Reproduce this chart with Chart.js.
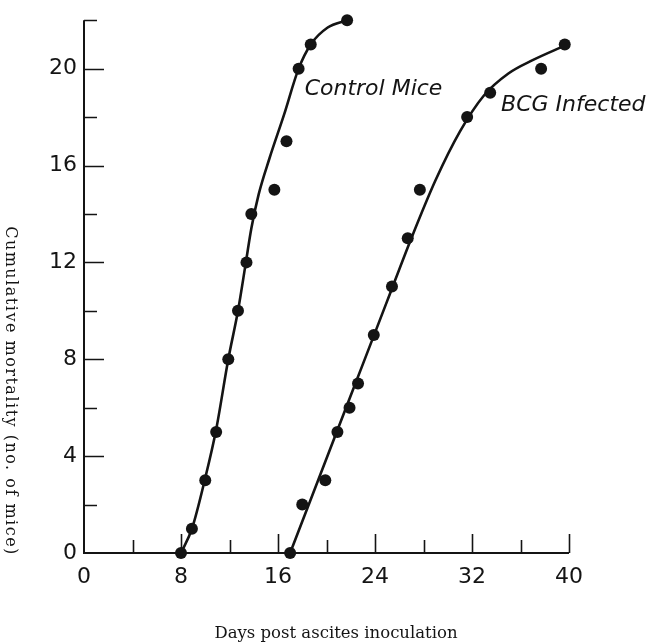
<!DOCTYPE html>
<html lang="en">
<head>
  <meta charset="UTF-8">
  <title>Cumulative mortality after ascites inoculation</title>
  <script src="https://cdn.jsdelivr.net/npm/chart.js"></script>
  <style>
    html, body { margin: 0; padding: 0; background: #fff; }
    #wrap { width: 647px; height: 644px; position: relative; }
  </style>
</head>
<body>
  <div id="wrap"><canvas id="mortalityChart"></canvas></div>

  <script>
    // observed cumulative deaths (day, no. of mice)
    const controlDays   = [8, 8.9, 10, 10.9, 11.9, 12.7, 13.4, 13.8, 15.7, 16.7, 17.7, 18.7, 21.7];
    const controlDeaths = [0, 1, 3, 5, 8, 10, 12, 14, 15, 17, 20, 21, 22];
    const bcgDays   = [17, 18, 19.9, 20.9, 21.9, 22.6, 23.9, 25.4, 26.7, 27.7, 31.6, 33.5, 37.7, 39.65];
    const bcgDeaths = [0, 2, 3, 5, 6, 7, 9, 11, 13, 15, 18, 19, 20, 21];

    // hand drawn smooth curves through each group
    const controlFitDays   = [8, 8.9, 10, 10.9, 11.9, 12.7, 13.35, 13.8, 14.4, 15.3, 16.5, 17.7, 18.7, 20.1, 21.7];
    const controlFitDeaths = [0, 1, 3.1, 5.1, 8, 10, 12, 13.4, 14.8, 16.3, 18.1, 20, 21, 21.7, 22];
    const bcgFitDays   = [17, 19, 21, 23, 25, 27, 29, 31, 33, 35, 37, 39.65];
    const bcgFitDeaths = [0, 2.6, 5.2, 7.8, 10.4, 13, 15.4, 17.4, 18.9, 19.8, 20.35, 20.95];

    // axis ticks
    const xTickLabels = [0, 8, 16, 24, 32, 40];
    const xTickMarks  = [4, 8, 12, 16, 20, 24, 28, 32, 36, 40];
    const yTickLabels = [0, 4, 8, 12, 16, 20];
    const yTickMarks  = [2, 4, 6, 8, 10, 12, 14, 16, 18, 20, 22];

    const seriesNames = ['Control Mice', 'BCG Infected'];
    const nameAnchors = [{ x: 18.2, y: 18.9 }, { x: 34.4, y: 18.25 }];

    const ink = '#141414';
    const toXY = (xs, ys) => xs.map((v, i) => ({ x: v, y: ys[i] }));

    const dots = (data) => ({
      data, showLine: false, pointRadius: 6, pointHoverRadius: 6,
      pointBackgroundColor: ink, pointBorderWidth: 0, clip: false, order: 1
    });
    const curve = (data) => ({
      data, showLine: true, pointRadius: 0, borderColor: ink, borderWidth: 2.6,
      cubicInterpolationMode: 'monotone', clip: false, order: 2
    });

    // axes with inward tick marks, titles and curve names
    const frame = {
      id: 'frame',
      beforeDatasetsDraw(chart) {
        const { ctx, chartArea: a, scales: { x, y } } = chart;
        ctx.save();
        ctx.strokeStyle = ink;
        ctx.lineWidth = 2;
        ctx.beginPath();
        ctx.moveTo(a.left, a.top);
        ctx.lineTo(a.left, a.bottom);
        ctx.lineTo(a.right, a.bottom);
        ctx.stroke();

        ctx.lineWidth = 1.6;
        ctx.beginPath();
        xTickMarks.forEach(v => {
          const px = Math.round(x.getPixelForValue(v)) + 0.5;
          const len = v % 8 === 0 ? 19 : 13;
          ctx.moveTo(px, a.bottom);
          ctx.lineTo(px, a.bottom - len);
        });
        yTickMarks.forEach(v => {
          const py = Math.round(y.getPixelForValue(v)) + 0.5;
          const len = v % 4 === 0 ? 20 : 13;
          ctx.moveTo(a.left, py);
          ctx.lineTo(a.left + len, py);
        });
        ctx.stroke();

        ctx.fillStyle = ink;
        ctx.font = '16.5px "DejaVu Serif"';
        ctx.textAlign = 'center';
        ctx.textBaseline = 'middle';
        ctx.fillText('Days post ascites inoculation', 336, 634);

        ctx.translate(10, 391);
        ctx.rotate(Math.PI / 2);
        ctx.font = '16px "DejaVu Serif"';
        ctx.letterSpacing = '1.5px';
        ctx.fillText('Cumulative mortality (no. of mice)', 0, 0);
        ctx.restore();
      },
      afterDatasetsDraw(chart) {
        const { ctx, scales: { x, y } } = chart;
        ctx.save();
        ctx.fillStyle = ink;
        ctx.font = 'italic 22px "DejaVu Sans"';
        ctx.textAlign = 'left';
        ctx.textBaseline = 'alphabetic';
        seriesNames.forEach((name, i) => {
          ctx.fillText(name, x.getPixelForValue(nameAnchors[i].x), y.getPixelForValue(nameAnchors[i].y));
        });
        ctx.restore();
      }
    };

    const tickFont = { family: '"DejaVu Sans"', size: 22 };

    new Chart(document.getElementById('mortalityChart'), {
      type: 'scatter',
      data: {
        datasets: [
          dots(toXY(controlDays, controlDeaths)),
          curve(toXY(controlFitDays, controlFitDeaths)),
          dots(toXY(bcgDays, bcgDeaths)),
          curve(toXY(bcgFitDays, bcgFitDeaths))
        ]
      },
      options: {
        responsive: true,
        maintainAspectRatio: false,
        animation: false,
        events: [],
        layout: { padding: { top: 18, right: 78, left: 0, bottom: 0 } },
        plugins: { legend: { display: false }, tooltip: { enabled: false } },
        scales: {
          x: {
            type: 'linear', min: 0, max: 40,
            afterBuildTicks: s => { s.ticks = xTickLabels.map(v => ({ value: v })); },
            afterFit: s => { s.height = 91; },
            grid: { display: false, drawTicks: false },
            border: { display: false },
            ticks: { font: tickFont, color: ink, padding: 11, maxRotation: 0 }
          },
          y: {
            type: 'linear', min: 0, max: 22,
            afterBuildTicks: s => { s.ticks = yTickLabels.map(v => ({ value: v })); },
            afterFit: s => { s.width = 84; },
            grid: { display: false, drawTicks: false },
            border: { display: false },
            ticks: { font: tickFont, color: ink, padding: 7 }
          }
        }
      },
      plugins: [frame]
    });
  </script>
</body>
</html>
